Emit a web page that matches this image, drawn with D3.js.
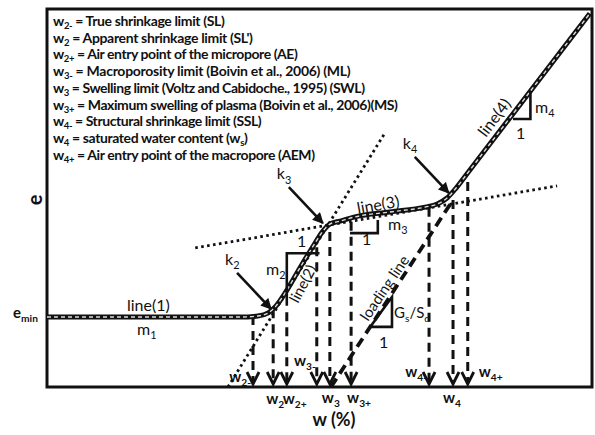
<!DOCTYPE html>
<html>
<head>
<meta charset="utf-8">
<script src="https://cdn.jsdelivr.net/npm/d3@7"></script>
<style>
  html, body { margin: 0; padding: 0; background: #fff; }
  svg { display: block; }
</style>
</head>
<body>
<div id="chart"></div>
<script>
// -------------------------------
// Shrinkage curve e(w) schematic
// w and e are given in % of the plotted range
// -------------------------------

// main shrinkage curve
const curveW = [0, 35.4, 38.7, 40.6, 42.0, 43.7, 46.4, 49.2, 50.5, 51.9, 53.8, 56.5, 62.9, 69.4, 71.6, 73.4, 75.1, 77.6, 99.6];
const curveE = [18.5, 18.5, 18.8, 19.6, 21.4, 24.9, 31.5, 38.1, 41.0, 43.1, 43.9, 45.0, 46.3, 47.6, 48.4, 50.0, 52.7, 57.4, 98.8];

// dotted tangents of line(2) and line(3), dashed loading line
const tangent2W = [33.2, 62.0];
const tangent2E = [0, 67.2];
const tangent3W = [27.2, 93.6];
const tangent3E = [36.8, 53.2];
const loadingW = [52.1, 74.5];
const loadingE = [0, 49.5];

// characteristic water contents (dashed arrows down to the w axis)
const limitNames = ["2-", "2", "2+", "3-", "3", "3+", "4-", "4", "4+"];
const limitW = [37.8, 41.5, 44.0, 49.5, 51.9, 55.8, 70.1, 74.5, 77.2];
const limitE = [18.8, 20.6, 19.8, 37.0, 41.0, 43.7, 47.4, 49.5, 54.2];

// knee points k2, k3, k4
const kneeNames = ["2", "3", "4"];
const kneeW = [41.3, 50.8, 73.9];
const kneeE = [20.4, 43.1, 51.1];

// e_min level
const eMin = 18.5;

// legend lines
const legendLines = [
  "w_{2-} = True shrinkage limit (SL)",
  "w_{2} = Apparent shrinkage limit (SL')",
  "w_{2+} = Air entry point of the micropore (AE)",
  "w_{3-} = Macroporosity limit (Boivin et al., 2006) (ML)",
  "w_{3} = Swelling limit (Voltz and Cabidoche., 1995) (SWL)",
  "w_{3+} = Maximum swelling of plasma (Boivin et al., 2006)(MS)",
  "w_{4-} = Structural shrinkage limit (SSL)",
  "w_{4} = saturated water content (w_{s})",
  "w_{4+} = Air entry point of the macropore (AEM)"
];

// -------------------------------
const width = 595, height = 435;
const frame = {left: 47, right: 592, top: 9, bottom: 387};
const FONT = "Lato, 'Open Sans', sans-serif";

const svg = d3.select("#chart")
  .append("svg")
  .attr("width", width)
  .attr("height", height)
  .style("font-family", FONT);

const x = d3.scaleLinear().domain([0, 100]).range([frame.left, frame.right]);
const y = d3.scaleLinear().domain([0, 100]).range([frame.bottom, frame.top]);

// text with _{sub} parts
function rich(sel, str, size, shift = 0.28) {
  const parts = str.split(/(_\{[^}]*\})/).filter(s => s.length);
  let down = false;
  parts.forEach(p => {
    if (p.startsWith("_{")) {
      sel.append("tspan")
        .attr("dy", size * shift)
        .attr("font-size", size * 0.68)
        .text(p.slice(2, -1));
      down = true;
    } else {
      sel.append("tspan")
        .attr("dy", down ? -size * shift : 0)
        .text(p);
      down = false;
    }
  });
  return sel;
}

function label(px, py, str, size, opts = {}) {
  const t = svg.append("text")
    .attr("x", px)
    .attr("y", py)
    .attr("font-size", size)
    .attr("font-weight", opts.weight || "bold")
    .attr("text-anchor", opts.anchor || "start")
    .attr("fill", "#111");
  if (opts.rotate !== undefined) {
    t.attr("transform", `rotate(${opts.rotate}, ${px}, ${py})`);
  }
  return rich(t, str, size, opts.shift);
}

// arrow marker for the k arrows
svg.append("defs").append("marker")
  .attr("id", "head")
  .attr("viewBox", "0 0 10 10")
  .attr("refX", 9)
  .attr("refY", 5)
  .attr("markerUnits", "userSpaceOnUse")
  .attr("markerWidth", 12)
  .attr("markerHeight", 11)
  .attr("orient", "auto")
  .append("path")
  .attr("d", "M0,0 L10,5 L0,10 z")
  .attr("fill", "#111");

// frame
svg.append("rect")
  .attr("x", frame.left)
  .attr("y", frame.top)
  .attr("width", frame.right - frame.left)
  .attr("height", frame.bottom - frame.top)
  .attr("fill", "none")
  .attr("stroke", "#111")
  .attr("stroke-width", 3);

const straight = d3.line().x(d => x(d[0])).y(d => y(d[1]));

// dotted tangents
[[tangent2W, tangent2E], [tangent3W, tangent3E]].forEach(([ws, es]) => {
  svg.append("path")
    .attr("d", straight(d3.zip(ws, es)))
    .attr("fill", "none")
    .attr("stroke", "#111")
    .attr("stroke-width", 2.8)
    .attr("stroke-dasharray", "2.6,3.4");
});

// loading line
svg.append("path")
  .attr("d", straight(d3.zip(loadingW, loadingE)))
  .attr("fill", "none")
  .attr("stroke", "#111")
  .attr("stroke-width", 3.8)
  .attr("stroke-dasharray", "10,6");

// vertical dashed arrows
limitW.forEach((w, i) => {
  const px = x(w);
  svg.append("line")
    .attr("x1", px).attr("x2", px)
    .attr("y1", y(limitE[i])).attr("y2", y(0) - 4)
    .attr("stroke", "#111")
    .attr("stroke-width", 3)
    .attr("stroke-dasharray", "9,6");
  svg.append("path")
    .attr("d", `M${px - 6},${y(0) - 15} L${px},${y(0) - 3} L${px + 6},${y(0) - 15}`)
    .attr("fill", "none")
    .attr("stroke", "#111")
    .attr("stroke-width", 2.8);
});

// shrinkage curve: black band with a light dashed core
const curveLine = d3.line()
  .x(d => x(d[0]))
  .y(d => y(d[1]))
  .curve(d3.curveMonotoneX);
const curvePts = d3.zip(curveW, curveE);

svg.append("path")
  .attr("d", curveLine(curvePts))
  .attr("fill", "none")
  .attr("stroke", "#111")
  .attr("stroke-width", 5);
svg.append("path")
  .attr("d", curveLine(curvePts))
  .attr("fill", "none")
  .attr("stroke", "#ddd")
  .attr("stroke-width", 1.4)
  .attr("stroke-dasharray", "4,3");

// slope triangles (corner points in data units)
const triM2 = [[50.0, 35.4], [44.0, 35.4], [44.0, 21.5]];
const triM3 = [[55.6, 40.7], [60.7, 40.7], [60.7, 44.2]];
const triM4 = [[85.5, 70.9], [88.7, 70.9], [88.7, 77.8]];
const triGs = [[59.3, 15.9], [63.3, 15.9], [63.3, 23.8], [59.3, 15.9]];
[triM2, triM3, triM4, triGs].forEach(pts => {
  svg.append("path")
    .attr("d", straight(pts))
    .attr("fill", "none")
    .attr("stroke", "#111")
    .attr("stroke-width", 2.6)
    .attr("stroke-linejoin", "miter");
});

// k arrows
kneeW.forEach((w, i) => {
  const tx = x(w), ty = y(kneeE[i]);
  svg.append("line")
    .attr("x1", tx - 35).attr("y1", ty - 37)
    .attr("x2", tx - 1).attr("y2", ty - 1)
    .attr("stroke", "#111")
    .attr("stroke-width", 2.6)
    .attr("marker-end", "url(#head)");
  label(tx - 47, ty - 45, "k_{" + kneeNames[i] + "}", 16, {weight: "normal"});
});

// legend (line widths follow the original text box)
const legendEnds = [225, 253, 298, 351, 365, 398, 262, 248, 315];
legendLines.forEach((s, i) => {
  const t = label(53, 26 + i * 16.7, s, 14, {shift: 0.22});
  const box = t.node().getBBox();
  const nChars = s.replace(/_\{|\}/g, "").length;
  const spacing = ((legendEnds[i] - 53) - box.width) / (nChars - 1);
  t.style("letter-spacing", spacing.toFixed(2) + "px");
});

// axis titles
label(frame.left - 5, 200, "e", 20, {anchor: "middle", rotate: -90});
label(334, 426, "w (%)", 18, {anchor: "middle"});
label(13, y(eMin) + 1, "e_{min}", 15);

// limit labels under / beside the arrows
const limitLabelDx = [-2, -7, -4, -1, -8, -4, -2, -10, 11];
const limitLabelDy = [-5, 17, 17, -21, 16, 16, -10, 16, -10];
const limitLabelAnchor = ["end", "start", "start", "end", "start", "start", "end", "start", "start"];
limitW.forEach((w, i) => {
  label(x(w) + limitLabelDx[i], y(0) + limitLabelDy[i], "w_{" + limitNames[i] + "}", 15,
    {anchor: limitLabelAnchor[i]});
});

// curve annotations
label(127, 311, "line(1)", 16, {weight: "normal"});
label(137, 335, "m_{1}", 16, {weight: "normal"});
label(298, 304, "line(2)", 15, {weight: "normal", rotate: -62});
label(358, 214, "line(3)", 16, {weight: "normal", rotate: -10});
label(486, 138, "line(4)", 16, {weight: "normal", rotate: -53});
label(368, 322, "loading line", 15, {weight: "normal", rotate: -56});

label(266, 275, "m_{2}", 16, {weight: "normal"});
label(297, 247, "1", 16, {weight: "normal"});
label(388, 230, "m_{3}", 16, {weight: "normal"});
label(362, 245, "1", 16, {weight: "normal"});
label(535, 113, "m_{4}", 16, {weight: "normal"});
label(516, 139, "1", 16, {weight: "normal"});
label(394, 318, "G_{s}/S_{d}", 15, {weight: "normal"});
label(379, 348, "1", 16, {weight: "normal"});
</script>
</body>
</html>
